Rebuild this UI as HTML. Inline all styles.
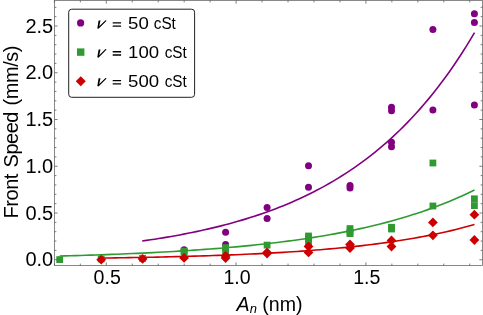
<!DOCTYPE html>
<html><head><meta charset="utf-8"><title>chart</title>
<style>html,body{margin:0;padding:0;background:#fff;width:483px;height:315px;overflow:hidden}</style></head>
<body>
<svg width="483" height="315" viewBox="0 0 483 315" style="position:absolute;left:0;top:0;will-change:transform;opacity:0.999">
<rect x="0" y="0" width="483" height="315" fill="#fff"/>
<polyline points="142.20,241.00 146.35,240.41 150.51,239.80 154.66,239.17 158.81,238.51 162.97,237.84 167.12,237.15 171.28,236.43 175.43,235.69 179.58,234.93 183.74,234.15 187.89,233.33 192.04,232.50 196.20,231.64 200.35,230.74 204.51,229.83 208.66,228.88 212.81,227.90 216.97,226.89 221.12,225.85 225.27,224.78 229.43,223.67 233.58,222.53 237.74,221.35 241.89,220.13 246.04,218.88 250.20,217.58 254.35,216.25 258.50,214.87 262.66,213.45 266.81,211.98 270.97,210.47 275.12,208.91 279.27,207.30 283.43,205.64 287.58,203.93 291.74,202.16 295.89,200.33 300.04,198.45 304.20,196.51 308.35,194.51 312.50,192.44 316.66,190.31 320.81,188.11 324.97,185.84 329.12,183.50 333.27,181.09 337.43,178.60 341.58,176.03 345.73,173.38 349.89,170.64 354.04,167.82 358.20,164.91 362.35,161.90 366.50,158.81 370.66,155.61 374.81,152.31 378.96,148.91 383.12,145.40 387.27,141.78 391.42,138.04 395.58,134.19 399.73,130.21 403.89,126.11 408.04,121.88 412.19,117.51 416.35,113.01 420.50,108.36 424.66,103.56 428.81,98.62 432.96,93.52 437.12,88.25 441.27,82.82 445.42,77.22 449.58,71.44 453.73,65.47 457.88,59.32 462.04,52.97 466.19,46.43 470.35,39.67 474.50,32.70" fill="none" stroke="#800080" stroke-width="1.6" stroke-linecap="butt" stroke-linejoin="round"/>
<polyline points="59.70,256.05 64.89,255.91 70.07,255.77 75.26,255.62 80.44,255.46 85.62,255.30 90.81,255.14 96.00,254.96 101.18,254.79 106.37,254.60 111.55,254.41 116.74,254.21 121.92,254.00 127.11,253.79 132.29,253.56 137.48,253.33 142.66,253.09 147.85,252.84 153.03,252.58 158.22,252.32 163.40,252.04 168.59,251.75 173.77,251.45 178.95,251.14 184.14,250.82 189.32,250.48 194.51,250.14 199.69,249.78 204.88,249.41 210.06,249.02 215.25,248.62 220.44,248.20 225.62,247.77 230.81,247.32 235.99,246.86 241.18,246.38 246.36,245.88 251.55,245.36 256.73,244.82 261.92,244.26 267.10,243.68 272.28,243.08 277.47,242.46 282.66,241.81 287.84,241.14 293.02,240.45 298.21,239.72 303.40,238.98 308.58,238.20 313.76,237.39 318.95,236.56 324.13,235.69 329.32,234.79 334.50,233.86 339.69,232.89 344.88,231.89 350.06,230.85 355.25,229.76 360.43,228.64 365.62,227.48 370.80,226.27 375.98,225.02 381.17,223.73 386.36,222.38 391.54,220.98 396.72,219.53 401.91,218.03 407.10,216.47 412.28,214.85 417.46,213.17 422.65,211.43 427.83,209.63 433.02,207.75 438.20,205.81 443.39,203.79 448.57,201.70 453.76,199.53 458.94,197.28 464.13,194.94 469.32,192.52 474.50,190.01" fill="none" stroke="#2f9a30" stroke-width="1.6" stroke-linecap="butt" stroke-linejoin="round"/>
<polyline points="101.10,258.07 105.77,258.00 110.43,257.93 115.10,257.86 119.77,257.79 124.44,257.71 129.10,257.63 133.77,257.55 138.44,257.47 143.11,257.38 147.77,257.29 152.44,257.19 157.11,257.09 161.78,256.99 166.44,256.88 171.11,256.77 175.78,256.66 180.45,256.54 185.12,256.41 189.78,256.28 194.45,256.15 199.12,256.01 203.78,255.86 208.45,255.71 213.12,255.56 217.79,255.39 222.45,255.22 227.12,255.05 231.79,254.87 236.46,254.68 241.12,254.48 245.79,254.28 250.46,254.06 255.13,253.84 259.79,253.62 264.46,253.38 269.13,253.13 273.80,252.87 278.46,252.61 283.13,252.33 287.80,252.04 292.47,251.75 297.13,251.44 301.80,251.11 306.47,250.78 311.14,250.43 315.80,250.07 320.47,249.70 325.14,249.31 329.81,248.90 334.48,248.48 339.14,248.04 343.81,247.59 348.48,247.12 353.14,246.63 357.81,246.12 362.48,245.59 367.15,245.05 371.81,244.48 376.48,243.88 381.15,243.27 385.82,242.63 390.49,241.97 395.15,241.28 399.82,240.56 404.49,239.82 409.15,239.05 413.82,238.25 418.49,237.41 423.16,236.55 427.83,235.65 432.49,234.72 437.16,233.75 441.83,232.74 446.50,231.69 451.16,230.61 455.83,229.48 460.50,228.30 465.16,227.09 469.83,225.82 474.50,224.51" fill="none" stroke="#cc0000" stroke-width="1.6" stroke-linecap="butt" stroke-linejoin="round"/>
<circle cx="142.6" cy="258.5" r="3.5" fill="#800080"/>
<circle cx="184.1" cy="249.7" r="3.5" fill="#800080"/>
<circle cx="225.6" cy="232.2" r="3.5" fill="#800080"/>
<circle cx="225.6" cy="244.6" r="3.5" fill="#800080"/>
<circle cx="267.1" cy="207.6" r="3.5" fill="#800080"/>
<circle cx="267.1" cy="218.4" r="3.5" fill="#800080"/>
<circle cx="308.5" cy="165.7" r="3.5" fill="#800080"/>
<circle cx="308.5" cy="187.2" r="3.5" fill="#800080"/>
<circle cx="350.0" cy="185.5" r="3.5" fill="#800080"/>
<circle cx="350.0" cy="188.1" r="3.5" fill="#800080"/>
<circle cx="391.5" cy="107.2" r="3.5" fill="#800080"/>
<circle cx="391.5" cy="110.7" r="3.5" fill="#800080"/>
<circle cx="391.5" cy="142.3" r="3.5" fill="#800080"/>
<circle cx="391.5" cy="146.7" r="3.5" fill="#800080"/>
<circle cx="432.9" cy="29.5" r="3.5" fill="#800080"/>
<circle cx="432.9" cy="110.0" r="3.5" fill="#800080"/>
<circle cx="474.4" cy="13.7" r="3.5" fill="#800080"/>
<circle cx="474.4" cy="22.5" r="3.5" fill="#800080"/>
<circle cx="474.4" cy="105.0" r="3.5" fill="#800080"/>
<rect x="56.3" y="256.2" width="6.8" height="6.8" fill="#2f9a30"/>
<rect x="97.8" y="255.5" width="6.8" height="6.8" fill="#2f9a30"/>
<rect x="139.2" y="254.9" width="6.8" height="6.8" fill="#2f9a30"/>
<rect x="180.7" y="247.7" width="6.8" height="6.8" fill="#2f9a30"/>
<rect x="180.7" y="248.8" width="6.8" height="6.8" fill="#2f9a30"/>
<rect x="222.2" y="244.2" width="6.8" height="6.8" fill="#2f9a30"/>
<rect x="222.2" y="247.8" width="6.8" height="6.8" fill="#2f9a30"/>
<rect x="263.7" y="241.7" width="6.8" height="6.8" fill="#2f9a30"/>
<rect x="305.1" y="232.6" width="6.8" height="6.8" fill="#2f9a30"/>
<rect x="305.1" y="235.6" width="6.8" height="6.8" fill="#2f9a30"/>
<rect x="305.1" y="239.1" width="6.8" height="6.8" fill="#2f9a30"/>
<rect x="346.6" y="225.2" width="6.8" height="6.8" fill="#2f9a30"/>
<rect x="346.6" y="228.6" width="6.8" height="6.8" fill="#2f9a30"/>
<rect x="346.6" y="230.2" width="6.8" height="6.8" fill="#2f9a30"/>
<rect x="388.1" y="223.9" width="6.8" height="6.8" fill="#2f9a30"/>
<rect x="388.1" y="225.6" width="6.8" height="6.8" fill="#2f9a30"/>
<rect x="429.5" y="159.6" width="6.8" height="6.8" fill="#2f9a30"/>
<rect x="429.5" y="202.6" width="6.8" height="6.8" fill="#2f9a30"/>
<rect x="471.0" y="195.4" width="6.8" height="6.8" fill="#2f9a30"/>
<rect x="471.0" y="202.2" width="6.8" height="6.8" fill="#2f9a30"/>
<path d="M101.2 254.8L106.1 259.7L101.2 264.6L96.3 259.7Z" fill="#cc0000"/>
<path d="M142.6 254.0L147.5 258.9L142.6 263.8L137.7 258.9Z" fill="#cc0000"/>
<path d="M184.1 253.0L189.0 257.9L184.1 262.8L179.2 257.9Z" fill="#cc0000"/>
<path d="M225.6 251.0L230.5 255.9L225.6 260.8L220.7 255.9Z" fill="#cc0000"/>
<path d="M225.6 253.1L230.5 258.0L225.6 262.9L220.7 258.0Z" fill="#cc0000"/>
<path d="M267.1 247.5L271.9 252.4L267.1 257.3L262.2 252.4Z" fill="#cc0000"/>
<path d="M267.1 248.6L271.9 253.5L267.1 258.4L262.2 253.5Z" fill="#cc0000"/>
<path d="M308.5 241.5L313.4 246.4L308.5 251.3L303.6 246.4Z" fill="#cc0000"/>
<path d="M308.5 247.5L313.4 252.4L308.5 257.3L303.6 252.4Z" fill="#cc0000"/>
<path d="M350.0 239.5L354.9 244.4L350.0 249.3L345.1 244.4Z" fill="#cc0000"/>
<path d="M350.0 243.1L354.9 248.0L350.0 252.9L345.1 248.0Z" fill="#cc0000"/>
<path d="M391.5 235.6L396.4 240.5L391.5 245.4L386.6 240.5Z" fill="#cc0000"/>
<path d="M391.5 241.6L396.4 246.5L391.5 251.4L386.6 246.5Z" fill="#cc0000"/>
<path d="M432.9 217.5L437.8 222.4L432.9 227.3L428.0 222.4Z" fill="#cc0000"/>
<path d="M432.9 230.4L437.8 235.3L432.9 240.2L428.0 235.3Z" fill="#cc0000"/>
<path d="M474.4 209.8L479.3 214.7L474.4 219.6L469.5 214.7Z" fill="#cc0000"/>
<path d="M474.4 235.1L479.3 240.0L474.4 244.9L469.5 240.0Z" fill="#cc0000"/>
<rect x="54.5" y="0.5" width="428.0" height="265.0" fill="none" stroke="#747474" stroke-width="0.85"/>
<path d="M54.38 265.5V263.6M54.38 0.5V2.4M80.34 265.5V263.6M80.34 0.5V2.4M106.30 265.5V262.4M106.30 0.5V3.6M132.26 265.5V263.6M132.26 0.5V2.4M158.22 265.5V263.6M158.22 0.5V2.4M184.18 265.5V263.6M184.18 0.5V2.4M210.14 265.5V263.6M210.14 0.5V2.4M236.10 265.5V262.4M236.10 0.5V3.6M262.06 265.5V263.6M262.06 0.5V2.4M288.02 265.5V263.6M288.02 0.5V2.4M313.98 265.5V263.6M313.98 0.5V2.4M339.94 265.5V263.6M339.94 0.5V2.4M365.90 265.5V262.4M365.90 0.5V3.6M391.86 265.5V263.6M391.86 0.5V2.4M417.82 265.5V263.6M417.82 0.5V2.4M443.78 265.5V263.6M443.78 0.5V2.4M469.74 265.5V263.6M469.74 0.5V2.4M54.5 259.75H57.6M482.5 259.75H479.4M54.5 250.40H56.4M482.5 250.40H480.6M54.5 241.05H56.4M482.5 241.05H480.6M54.5 231.70H56.4M482.5 231.70H480.6M54.5 222.35H56.4M482.5 222.35H480.6M54.5 213.00H57.6M482.5 213.00H479.4M54.5 203.65H56.4M482.5 203.65H480.6M54.5 194.30H56.4M482.5 194.30H480.6M54.5 184.95H56.4M482.5 184.95H480.6M54.5 175.60H56.4M482.5 175.60H480.6M54.5 166.25H57.6M482.5 166.25H479.4M54.5 156.90H56.4M482.5 156.90H480.6M54.5 147.55H56.4M482.5 147.55H480.6M54.5 138.20H56.4M482.5 138.20H480.6M54.5 128.85H56.4M482.5 128.85H480.6M54.5 119.50H57.6M482.5 119.50H479.4M54.5 110.15H56.4M482.5 110.15H480.6M54.5 100.80H56.4M482.5 100.80H480.6M54.5 91.45H56.4M482.5 91.45H480.6M54.5 82.10H56.4M482.5 82.10H480.6M54.5 72.75H57.6M482.5 72.75H479.4M54.5 63.40H56.4M482.5 63.40H480.6M54.5 54.05H56.4M482.5 54.05H480.6M54.5 44.70H56.4M482.5 44.70H480.6M54.5 35.35H56.4M482.5 35.35H480.6M54.5 26.00H57.6M482.5 26.00H479.4M54.5 16.65H56.4M482.5 16.65H480.6M54.5 7.30H56.4M482.5 7.30H480.6" stroke="#484848" stroke-width="0.7" fill="none"/>
<text x="53.2" y="266.45" text-anchor="end" font-family="Liberation Sans, sans-serif" font-size="20" fill="#000">0.0</text>
<text x="53.2" y="219.70" text-anchor="end" font-family="Liberation Sans, sans-serif" font-size="20" fill="#000">0.5</text>
<text x="53.2" y="172.95" text-anchor="end" font-family="Liberation Sans, sans-serif" font-size="20" fill="#000">1.0</text>
<text x="53.2" y="126.20" text-anchor="end" font-family="Liberation Sans, sans-serif" font-size="20" fill="#000">1.5</text>
<text x="53.2" y="79.45" text-anchor="end" font-family="Liberation Sans, sans-serif" font-size="20" fill="#000">2.0</text>
<text x="53.2" y="32.70" text-anchor="end" font-family="Liberation Sans, sans-serif" font-size="20" fill="#000">2.5</text>
<text x="107.20" y="284.4" text-anchor="middle" font-family="Liberation Sans, sans-serif" font-size="19.6" fill="#000">0.5</text>
<text x="237.00" y="284.4" text-anchor="middle" font-family="Liberation Sans, sans-serif" font-size="19.6" fill="#000">1.0</text>
<text x="366.80" y="284.4" text-anchor="middle" font-family="Liberation Sans, sans-serif" font-size="19.6" fill="#000">1.5</text>
<text transform="translate(17.6,132.2) rotate(-90)" text-anchor="middle" letter-spacing="-0.47" word-spacing="1.5" font-family="Liberation Sans, sans-serif" font-size="20" fill="#000">Front Speed (mm/s)</text>
<text x="236.6" y="311" font-family="Liberation Sans, sans-serif" font-size="19.6" fill="#000"><tspan font-style="italic">A</tspan><tspan font-style="italic" font-size="13" dy="1.8">n</tspan><tspan dy="-1.8" dx="0"> (nm)</tspan></text>
<rect x="68.7" y="9.2" width="125.9" height="88.1" rx="3" ry="3" fill="#fff" stroke="#222" stroke-width="1"/>
<path d="M98.60 20.60L100.50 20.60L99.25 26.30L105.50 20.20L106.60 20.70L98.50 28.80L97.30 28.40Z" fill="#000"/>
<path d="M112.7 22.20h8.4v1.35h-8.4zM112.7 25.45h8.4v1.35h-8.4z" fill="#000"/>
<text transform="translate(128.05,29.10) scale(1.095,1)" font-family="Liberation Sans, sans-serif" font-size="17" fill="#000">50</text>
<text transform="translate(153.75,29.10) scale(0.9,1)" font-family="Liberation Sans, sans-serif" font-size="17" fill="#000">cSt</text>
<path d="M98.60 49.45L100.50 49.45L99.25 55.15L105.50 49.05L106.60 49.55L98.50 57.65L97.30 57.25Z" fill="#000"/>
<path d="M112.7 51.05h8.4v1.35h-8.4zM112.7 54.30h8.4v1.35h-8.4z" fill="#000"/>
<text transform="translate(128.05,57.95) scale(1.095,1)" font-family="Liberation Sans, sans-serif" font-size="17" fill="#000">100</text>
<text transform="translate(164.65,57.95) scale(0.9,1)" font-family="Liberation Sans, sans-serif" font-size="17" fill="#000">cSt</text>
<path d="M98.60 78.30L100.50 78.30L99.25 84.00L105.50 77.90L106.60 78.40L98.50 86.50L97.30 86.10Z" fill="#000"/>
<path d="M112.7 79.90h8.4v1.35h-8.4zM112.7 83.15h8.4v1.35h-8.4z" fill="#000"/>
<text transform="translate(128.05,86.80) scale(1.095,1)" font-family="Liberation Sans, sans-serif" font-size="17" fill="#000">500</text>
<text transform="translate(164.65,86.80) scale(0.9,1)" font-family="Liberation Sans, sans-serif" font-size="17" fill="#000">cSt</text>
<circle cx="80.6" cy="22.9" r="3.6" fill="#800080"/>
<rect x="77.0" y="48.4" width="7.4" height="7.4" fill="#2f9a30"/>
<path d="M80.75 76.2L85.75 81.2L80.75 86.2L75.75 81.2Z" fill="#cc0000"/>
</svg>
</body></html>
